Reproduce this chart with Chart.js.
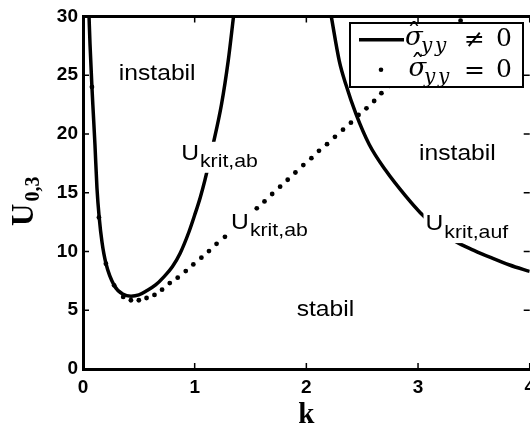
<!DOCTYPE html>
<html>
<head>
<meta charset="utf-8">
<script src="https://cdn.jsdelivr.net/npm/chart.js@4"></script>
<style>
html, body { margin: 0; padding: 0; background: #fff; overflow: hidden; }
#wrap { width: 542px; height: 427px; }
</style>
</head>
<body>
<div id="wrap"><canvas id="graph" width="542" height="427"></canvas></div>
<script>
// U_krit,ab (sigma_yy != 0), left U-shaped curve
const abK = [0.054, 0.063, 0.080, 0.088, 0.107, 0.125, 0.145, 0.170, 0.205, 0.280, 0.360, 0.430, 0.500,
             0.570, 0.650, 0.720, 0.800, 0.870, 0.950, 1.000, 1.050, 1.090, 1.160, 1.240, 1.300, 1.348];
const abU = [30.0, 27.6, 24.0, 22.5, 19.1, 15.4, 12.9, 10.8, 9.0, 7.1, 6.35, 6.2, 6.3,
             6.65, 7.15, 7.8, 8.7, 9.85, 11.7, 13.1, 14.6, 16.0, 18.9, 22.5, 26.2, 30.0];

// U_krit,auf (sigma_yy != 0), right branch
const aufK = [2.223, 2.295, 2.354, 2.444, 2.563, 2.710, 2.890, 3.020, 3.170, 3.336, 3.500, 3.660, 3.820, 4.000];
const aufU = [30.0, 26.2, 24.2, 21.7, 19.1, 16.9, 14.7, 13.3, 12.0, 10.85, 10.1, 9.45, 8.85, 8.3];

// sigma_yy = 0, drawn as single dots
const dotK = [0.080, 0.143, 0.205, 0.279, 0.360, 0.429, 0.500, 0.569, 0.640, 0.708, 0.777, 0.848,
              0.920, 0.988, 1.060, 1.128, 1.196, 1.271, 1.340, 1.410, 1.480, 1.556, 1.625, 1.694,
              1.765, 1.833, 1.902, 1.973, 2.045, 2.113, 2.185, 2.256, 2.328, 2.399, 2.467, 2.538,
              2.607, 2.672, 2.743, 2.814, 2.885, 2.956, 3.027, 3.097, 3.168, 3.239, 3.310, 3.381];
const dotU = [24.0, 12.9, 8.96, 7.12, 6.13, 5.85, 5.85, 6.04, 6.30, 6.75, 7.31, 7.77,
              8.33, 8.90, 9.47, 10.03, 10.65, 11.25, 11.86, 12.46, 13.05, 13.67, 14.26, 14.89,
              15.51, 16.10, 16.72, 17.35, 17.94, 18.56, 19.13, 19.75, 20.36, 20.96, 21.61, 22.18,
              22.80, 23.47, 24.09, 24.70, 25.32, 25.94, 26.55, 27.17, 27.79, 28.41, 29.02, 29.64];

// text placed in the plot (data coordinates, left edge / baseline)
const regionText = ['instabil', 'instabil', 'stabil'];
const regionK = [0.321, 3.009, 1.913];
const regionU = [24.58, 17.80, 4.49];
const critSub = ['krit,ab', 'krit,ab', 'krit,auf'];
const critK = [0.879, 1.326, 3.067];
const critU = [17.80, 11.92, 11.82];

const SX = 1.12; // figure text runs a little wide

function pts(xs, ys) {
  return xs.map((x, i) => ({x: x, y: ys[i]}));
}

function wideText(ctx, txt, x, y) {
  ctx.save();
  ctx.translate(x, y);
  ctx.scale(SX, 1);
  ctx.fillText(txt, 0, 0);
  ctx.restore();
}

const annotations = {
  id: 'annotations',
  afterDatasetsDraw(chart) {
    const ctx = chart.ctx, xs = chart.scales.x, ys = chart.scales.y;
    ctx.save();
    ctx.textAlign = 'left';
    ctx.textBaseline = 'alphabetic';

    ctx.font = '22px "Liberation Sans"';
    ctx.fillStyle = '#000';
    regionText.forEach((t, i) => {
      wideText(ctx, t, xs.getPixelForValue(regionK[i]), ys.getPixelForValue(regionU[i]));
    });

    critSub.forEach((sub, i) => {
      const px = xs.getPixelForValue(critK[i]);
      const py = ys.getPixelForValue(critU[i]);
      ctx.font = '22px "Liberation Sans"';
      const uw = ctx.measureText('U').width * SX;
      ctx.font = '19px "Liberation Sans"';
      const sw = ctx.measureText(sub).width * SX;
      ctx.fillStyle = '#fff';
      ctx.fillRect(px - 2, py - 18, uw + sw + 5, 31);
      ctx.fillStyle = '#000';
      ctx.font = '22px "Liberation Sans"';
      wideText(ctx, 'U', px, py);
      ctx.font = '19px "Liberation Sans"';
      wideText(ctx, sub, px + uw + 1, py + 7.5);
    });
    ctx.restore();
  },
  afterDraw(chart) {
    const ctx = chart.ctx, a = chart.chartArea;
    const xs = chart.scales.x, ys = chart.scales.y;
    ctx.save();

    // inward tick marks on all four sides
    ctx.strokeStyle = '#000';
    ctx.lineWidth = 1.5;
    ctx.beginPath();
    xs.ticks.forEach(t => {
      const p = xs.getPixelForValue(t.value);
      ctx.moveTo(p, a.bottom); ctx.lineTo(p, a.bottom - 6);
      ctx.moveTo(p, a.top); ctx.lineTo(p, a.top + 6);
    });
    ys.ticks.forEach(t => {
      const p = ys.getPixelForValue(t.value);
      ctx.moveTo(a.left, p); ctx.lineTo(a.left + 6, p);
      ctx.moveTo(a.right, p); ctx.lineTo(a.right - 6, p);
    });
    ctx.stroke();

    // y axis title U_{0,3}, rotated
    ctx.save();
    ctx.translate(33, 226);
    ctx.rotate(-Math.PI / 2);
    ctx.fillStyle = '#000';
    ctx.textAlign = 'left';
    ctx.textBaseline = 'alphabetic';
    ctx.font = 'bold 31px "Liberation Serif"';
    ctx.fillText('U', 0, 0);
    const uw = ctx.measureText('U').width;
    ctx.font = 'bold 20px "Liberation Serif"';
    ctx.fillText('0,3', uw + 2, 5.5);
    ctx.restore();

    // legend box
    const lx = 350, ly = 23, lw = 173, lh = 64;
    ctx.fillStyle = '#fff';
    ctx.fillRect(lx, ly, lw, lh);
    ctx.strokeStyle = '#000';
    ctx.lineWidth = 2;
    ctx.strokeRect(lx, ly, lw, lh);

    ctx.lineWidth = 3.5;
    ctx.beginPath();
    ctx.moveTo(359, 39.7);
    ctx.lineTo(404, 39.7);
    ctx.stroke();
    ctx.fillStyle = '#000';
    ctx.beginPath();
    ctx.arc(381, 69.7, 2.3, 0, Math.PI * 2);
    ctx.fill();

    const rows = [
      {sx: 405, base: 45, rel: '\u2260', yx: 421},
      {sx: 408.5, base: 76, rel: '=', yx: 424}
    ];
    ctx.textAlign = 'left';
    ctx.textBaseline = 'alphabetic';
    rows.forEach(r => {
      ctx.font = 'italic 26px "DejaVu Serif"';
      ctx.fillText('\u03c3', r.sx, r.base);
      ctx.textAlign = 'center';
      ctx.font = '28px "DejaVu Serif"';
      ctx.fillText('\u02c6', r.sx + 9, r.base - 2.5);
      ctx.textAlign = 'left';
      ctx.font = 'italic 20px "DejaVu Serif"';
      ctx.fillText('y', r.yx, r.base + 7);
      ctx.fillText('y', r.yx + 14, r.base + 7);
      ctx.font = '25px "DejaVu Serif"';
      ctx.fillText(r.rel, 464, r.base + 2);
      ctx.fillText('0', 496, r.base + 1);
    });
    ctx.restore();
  }
};

const tickFont = {family: '"Liberation Sans"', size: 19, weight: 'bold'};

new Chart(document.getElementById('graph').getContext('2d'), {
  type: 'scatter',
  data: {
    datasets: [
      {
        data: pts(abK, abU),
        showLine: true,
        borderColor: '#000',
        borderWidth: 3.5,
        pointRadius: 0,
        cubicInterpolationMode: 'monotone'
      },
      {
        data: pts(aufK, aufU),
        showLine: true,
        borderColor: '#000',
        borderWidth: 3.5,
        pointRadius: 0,
        cubicInterpolationMode: 'monotone'
      },
      {
        data: pts(dotK, dotU),
        showLine: false,
        pointRadius: 2.4,
        pointBorderWidth: 0,
        pointBackgroundColor: '#000'
      }
    ]
  },
  options: {
    responsive: false,
    animation: false,
    events: [],
    layout: {padding: {top: 15, right: 11, left: 0, bottom: 0}},
    plugins: {legend: {display: false}, tooltip: {enabled: false}},
    scales: {
      x: {
        type: 'linear', position: 'bottom', min: 0, max: 4,
        ticks: {stepSize: 1, color: '#000', font: tickFont, padding: 7},
        grid: {display: false, drawTicks: false},
        border: {display: true, color: '#000', width: 3},
        title: {
          display: true, text: 'k', color: '#000', padding: 0,
          font: {family: '"Liberation Serif"', size: 29, weight: 'bold', lineHeight: 0.8}
        },
        afterFit: s => { s.height = 58; }
      },
      x2: {
        type: 'linear', position: 'top', min: 0, max: 4,
        ticks: {display: false, stepSize: 1},
        grid: {display: false, drawTicks: false},
        border: {display: true, color: '#000', width: 3},
        afterFit: s => { s.height = 0; }
      },
      y: {
        type: 'linear', position: 'left', min: 0, max: 30,
        ticks: {stepSize: 5, color: '#000', font: tickFont, padding: 5},
        grid: {display: false, drawTicks: false},
        border: {display: true, color: '#000', width: 3},
        afterFit: s => { s.width = 83; }
      }
    }
  },
  plugins: [annotations]
});
</script>
</body>
</html>
